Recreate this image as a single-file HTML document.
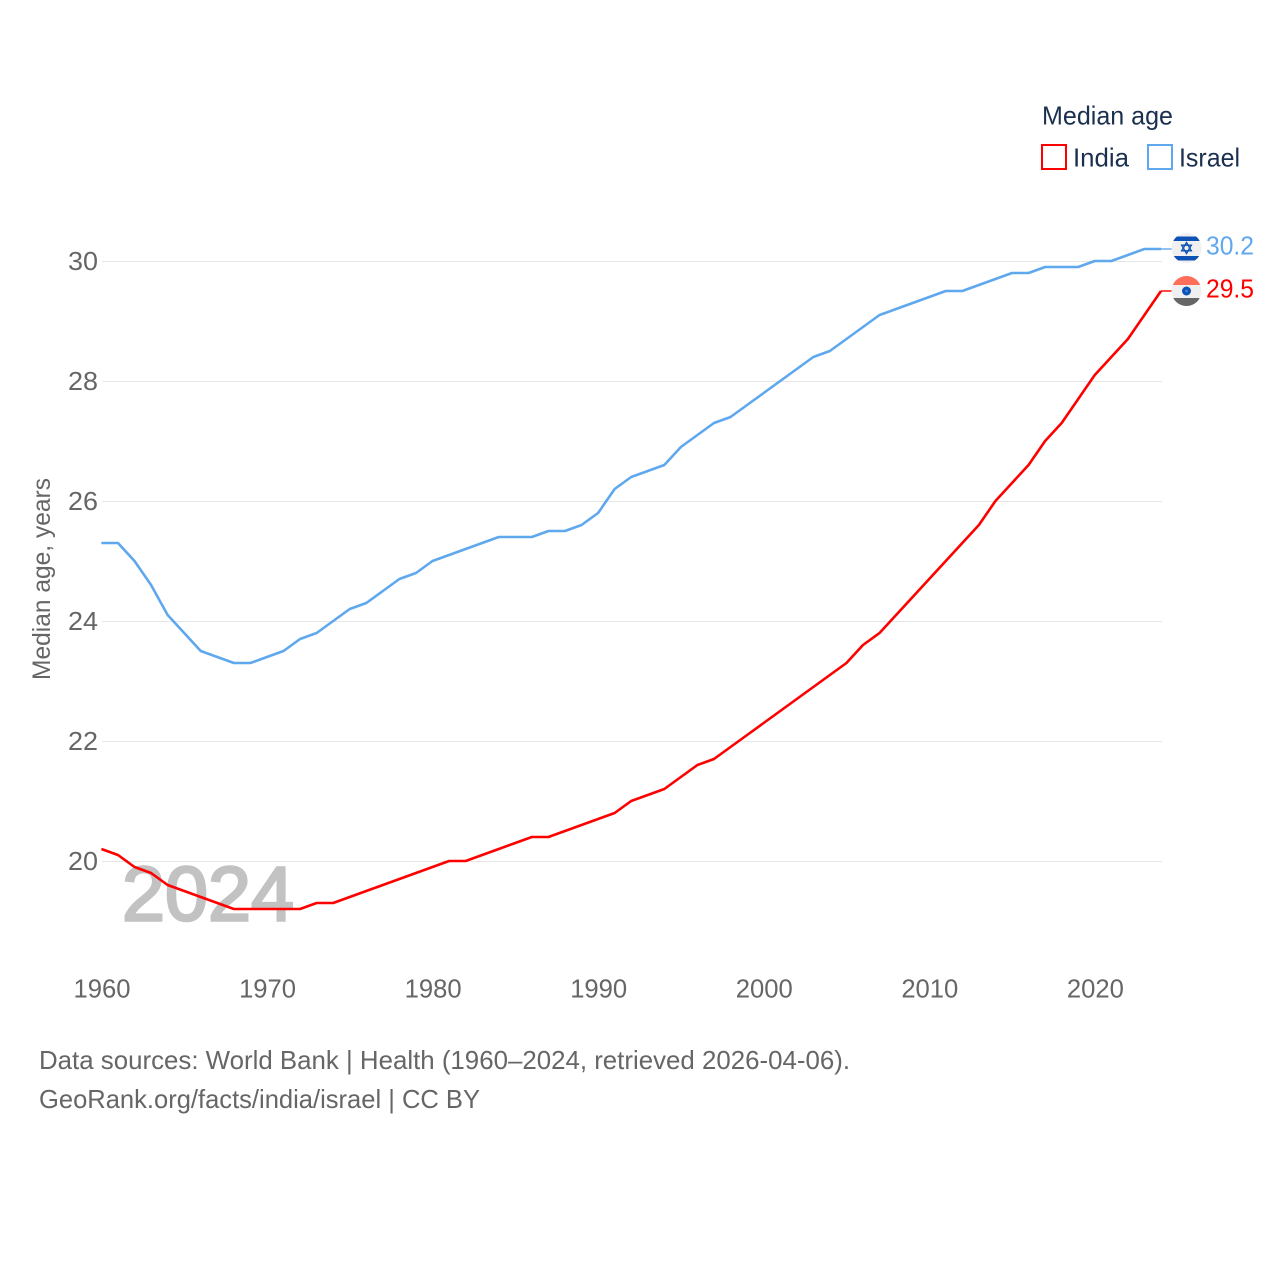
<!DOCTYPE html>
<html lang="en">
<head>
<meta charset="utf-8">
<title>Median age: India vs Israel</title>
<style>
html,body{margin:0;padding:0;background:#fff;width:1280px;height:1280px;overflow:hidden}
svg{display:block}
text{font-family:"Liberation Sans",sans-serif}
</style>
</head>
<body>
<svg id="chart" width="1280" height="1280" viewBox="0 0 1280 1280" xmlns="http://www.w3.org/2000/svg">
  <rect width="1280" height="1280" fill="#fff"/>
  <g id="grid"></g>
  <text x="122" y="920.5" font-size="77" fill="#c2c2c2" stroke="#c2c2c2" stroke-width="2.6" textLength="172" lengthAdjust="spacingAndGlyphs">2024</text>
  <g id="yticks"></g>
  <g id="xticks"></g>
  <text transform="translate(50,680) rotate(-90)" font-size="25" fill="#666" textLength="202" lengthAdjust="spacingAndGlyphs">Median age, years</text>
  <g id="series"></g>

  <g>
    <text x="1042" y="124.5" font-size="26" fill="#1b2f4e" textLength="131" lengthAdjust="spacingAndGlyphs">Median age</text>
    <rect x="1042" y="145" width="24" height="24" fill="#fff" stroke="#ff0000" stroke-width="2"/>
    <text x="1073" y="166.5" font-size="26" fill="#1b2f4e" textLength="56" lengthAdjust="spacingAndGlyphs">India</text>
    <rect x="1148" y="145" width="24" height="24" fill="#fff" stroke="#5fa8ee" stroke-width="2"/>
    <text x="1179" y="166.5" font-size="26" fill="#1b2f4e" textLength="61" lengthAdjust="spacingAndGlyphs">Israel</text>
  </g>

  <g id="end-marks"></g>

  <text x="39" y="1069" font-size="26" fill="#666" textLength="811" lengthAdjust="spacingAndGlyphs">Data sources: World Bank | Health (1960–2024, retrieved 2026-04-06).</text>
  <text x="39" y="1108" font-size="26" fill="#666" textLength="441" lengthAdjust="spacingAndGlyphs">GeoRank.org/facts/india/israel | CC BY</text>
</svg>
<script>
const years = [1960,1961,1962,1963,1964,1965,1966,1967,1968,1969,1970,1971,1972,1973,1974,1975,1976,1977,1978,1979,1980,1981,1982,1983,1984,1985,1986,1987,1988,1989,1990,1991,1992,1993,1994,1995,1996,1997,1998,1999,2000,2001,2002,2003,2004,2005,2006,2007,2008,2009,2010,2011,2012,2013,2014,2015,2016,2017,2018,2019,2020,2021,2022,2023,2024];
const indiaValues = [20.2,20.1,19.9,19.8,19.6,19.5,19.4,19.3,19.2,19.2,19.2,19.2,19.2,19.3,19.3,19.4,19.5,19.6,19.7,19.8,19.9,20.0,20.0,20.1,20.2,20.3,20.4,20.4,20.5,20.6,20.7,20.8,21.0,21.1,21.2,21.4,21.6,21.7,21.9,22.1,22.3,22.5,22.7,22.9,23.1,23.3,23.6,23.8,24.1,24.4,24.7,25.0,25.3,25.6,26.0,26.3,26.6,27.0,27.3,27.7,28.1,28.4,28.7,29.1,29.5];
const israelValues = [25.3,25.3,25.0,24.6,24.1,23.8,23.5,23.4,23.3,23.3,23.4,23.5,23.7,23.8,24.0,24.2,24.3,24.5,24.7,24.8,25.0,25.1,25.2,25.3,25.4,25.4,25.4,25.5,25.5,25.6,25.8,26.2,26.4,26.5,26.6,26.9,27.1,27.3,27.4,27.6,27.8,28.0,28.2,28.4,28.5,28.7,28.9,29.1,29.2,29.3,29.4,29.5,29.5,29.6,29.7,29.8,29.8,29.9,29.9,29.9,30.0,30.0,30.1,30.2,30.2];
const yTickValues = [20,22,24,26,28,30];
const xTickValues = [1960,1970,1980,1990,2000,2010,2020];

const NS = 'http://www.w3.org/2000/svg';
const xScale = function (year) { return 101.4 + (year - 1960) * (1161 - 101.4) / 64; };
const yScale = function (value) { return 861 - (value - 20) * 60; };
const INDIA_COLOR = '#ff0000';
const ISRAEL_COLOR = '#5fa8ee';

function make(tag, parent, attrs, text) {
  const el = document.createElementNS(NS, tag);
  for (const key in attrs) el.setAttribute(key, attrs[key]);
  if (text !== undefined) el.textContent = text;
  parent.appendChild(el);
  return el;
}

const gridGroup = document.getElementById('grid');
const yTickGroup = document.getElementById('yticks');
yTickValues.forEach(function (tick) {
  const line = make('line', gridGroup, {x1: 102, x2: 1162, y1: yScale(tick) + 0.5, y2: yScale(tick) + 0.5, stroke: '#e6e6e6', 'stroke-width': 1});
  
  
  const label = make('text', yTickGroup, {x: 98, y: yScale(tick) + 9, 'text-anchor': 'end', 'font-size': 25.5, fill: '#666', textLength: 30, lengthAdjust: 'spacingAndGlyphs'}, String(tick));
  
  
});

const xTickGroup = document.getElementById('xticks');
xTickValues.forEach(function (tick) {
  const label = make('text', xTickGroup, {x: xScale(tick) + 0.6, y: 997.5, 'text-anchor': 'middle', 'font-size': 25.5, fill: '#666', textLength: 57, lengthAdjust: 'spacingAndGlyphs'}, String(tick));
  
  
});

function pathFor(values) {
  return values.map(function (v, i) {
    return (i ? 'L' : 'M') + xScale(years[i]).toFixed(2) + ' ' + yScale(v).toFixed(2);
  }).join(' ');
}

const seriesGroup = document.getElementById('series');
const israelLine = make('path', seriesGroup, {d: pathFor(israelValues), fill: 'none', stroke: ISRAEL_COLOR, 'stroke-width': 2.6, 'stroke-linejoin': 'round'});


const indiaLine = make('path', seriesGroup, {d: pathFor(indiaValues), fill: 'none', stroke: INDIA_COLOR, 'stroke-width': 2.6, 'stroke-linejoin': 'round'});



const endGroup = document.getElementById('end-marks');
const defs = make('defs', endGroup, {});
const FLAG_X = 1186.5;

function addFlagClip(id, cy) {
  const clip = make('clipPath', defs, {id: id});
  make('circle', clip, {cx: FLAG_X, cy: cy, r: 15});
}

// Israel end mark
const israelLast = israelValues[israelValues.length - 1];
const israelY = yScale(israelLast) - 1;
const israelConnector = make('line', endGroup, {x1: xScale(2024), x2: 1172, y1: yScale(israelLast), y2: israelY + 1, stroke: ISRAEL_COLOR, 'stroke-width': 1.4});


addFlagClip('clip-il', israelY);
const ilFlag = make('g', endGroup, {'clip-path': 'url(#clip-il)'});


make('rect', ilFlag, {x: FLAG_X - 15, y: israelY - 15, width: 30, height: 30, fill: '#f0f0f0'});
make('rect', ilFlag, {x: FLAG_X - 15, y: israelY - 11.5, width: 30, height: 4.5, fill: '#0f52b5'});
make('rect', ilFlag, {x: FLAG_X - 15, y: israelY + 8, width: 30, height: 4.5, fill: '#0f52b5'});
[[0, -5.5, 4.8, 2.8, -4.8, 2.8], [0, 5.5, 4.8, -2.8, -4.8, -2.8]].forEach(function (t) {
  const pts = [0, 2, 4].map(function (i) { return (FLAG_X + t[i]) + ',' + (israelY + t[i + 1]); }).join(' ');
  make('polygon', ilFlag, {points: pts, fill: 'none', stroke: '#0f52b5', 'stroke-width': 1.4});
});
const israelLabel = make('text', endGroup, {x: 1206, y: israelY + 6.5, 'font-size': 26, fill: ISRAEL_COLOR, textLength: 48, lengthAdjust: 'spacingAndGlyphs'}, israelLast.toFixed(1));



// India end mark
const indiaLast = indiaValues[indiaValues.length - 1];
const indiaY = yScale(indiaLast);
const indiaConnector = make('line', endGroup, {x1: xScale(2024), x2: 1172, y1: indiaY, y2: indiaY, stroke: INDIA_COLOR, 'stroke-width': 1.4});


addFlagClip('clip-in', indiaY);
const inFlag = make('g', endGroup, {'clip-path': 'url(#clip-in)'});


make('rect', inFlag, {x: FLAG_X - 15, y: indiaY - 15, width: 30, height: 30, fill: '#f0f0f0'});
make('rect', inFlag, {x: FLAG_X - 15, y: indiaY - 15, width: 30, height: 9, fill: '#ff6e5a'});
make('rect', inFlag, {x: FLAG_X - 15, y: indiaY + 7, width: 30, height: 8, fill: '#666666'});
make('circle', inFlag, {cx: FLAG_X, cy: indiaY, r: 4.5, fill: '#0f52b5'});
make('circle', inFlag, {cx: FLAG_X, cy: indiaY, r: 1.4, fill: '#3f7fd8'});
const indiaLabel = make('text', endGroup, {x: 1206, y: indiaY + 6.5, 'font-size': 26, fill: INDIA_COLOR, textLength: 48, lengthAdjust: 'spacingAndGlyphs'}, indiaLast.toFixed(1));


</script>
</body>
</html>
